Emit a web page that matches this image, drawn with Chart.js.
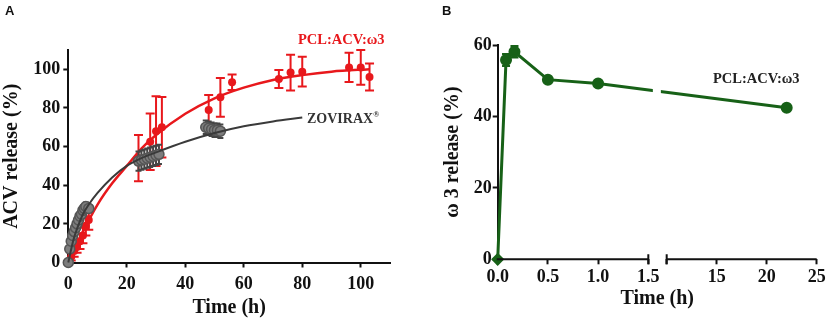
<!DOCTYPE html>
<html>
<head>
<meta charset="utf-8">
<script src="https://cdn.jsdelivr.net/npm/chart.js@4.4.1/dist/chart.umd.min.js"></script>
<style>
  body { margin: 0; background: #fff; }
  #wrap { position: relative; width: 829px; height: 322px; overflow: hidden; }
  canvas { position: absolute; top: 0; }
  .lbl { position: absolute; line-height: 1; white-space: nowrap; font-family: 'Liberation Serif', serif; font-weight: bold; }
  .panel { position: absolute; line-height: 1; font-family: 'Liberation Sans', Arial, sans-serif; font-weight: bold; font-size: 13px; color: #111; }
</style>
</head>
<body>
<div id="wrap">
  <canvas id="chartA" width="415" height="322" style="left:0"></canvas>
  <canvas id="chartB" width="414" height="322" style="left:415px"></canvas>
  <div class="panel" style="left:5px;top:3.5px">A</div>
  <div class="panel" style="left:442px;top:3.5px">B</div>
  <div class="lbl" style="left:298px;top:32px;font-size:14.5px;color:#e8181c">PCL:ACV:ω3</div>
  <div class="lbl" style="left:307px;top:111px;font-size:14px;color:#333">ZOVIRAX<sup style="font-size:8px">®</sup></div>
  <div class="lbl" style="left:713px;top:70.5px;font-size:14.5px;color:#222">PCL:ACV:ω3</div>
</div>
<script>
// ---- Panel A: ACV release ----
// PCL:ACV:w3 measured points
const redTime = [0, 1, 2, 3, 4, 5, 6, 7, 24, 28, 30, 32, 48, 52, 56, 72, 76, 80, 96, 100, 103];
const redRelease = [0, 3, 6, 8, 11, 14, 19, 22, 54, 62.5, 68, 70, 79, 85.5, 93.3, 95, 98.3, 98.8, 101, 101, 96];
const redError = [0, 2, 3, 3, 4, 4, 5, 5, 12, 14.6, 18, 15.7, 7.7, 10, 4, 4.7, 9.3, 7.7, 7.6, 9, 7];
// fitted curve
const redFitTime = [0, 5, 10, 15, 20, 25, 30, 40, 50, 60, 70, 80, 90, 100, 103];
const redFitRelease = [0, 16, 30, 41, 50, 59, 66, 77, 85, 90.5, 94.5, 97, 98.8, 99.8, 100];

// ZOVIRAX measured points
const grayTime = [0, 0.5, 1, 1.5, 2, 2.5, 3, 3.5, 4, 4.5, 5, 5.5, 6, 7, 24, 25, 26, 27, 28, 29, 30, 31, 47, 48, 49, 50, 51, 52];
const grayRelease = [0, 7, 11, 14, 16, 18, 20, 22, 24, 25, 27, 28, 29, 28, 52.5, 53, 53.5, 54, 54.5, 55, 55.5, 56, 70, 69.5, 69, 68.5, 68.5, 68];
const grayError = [0, 1.5, 1.5, 1.5, 2, 2, 2, 2, 2, 2, 2, 2, 2, 2, 5, 5, 5, 5, 5, 5, 5, 5, 3.5, 3.5, 3.5, 3.5, 3.5, 3.5];
const grayFitTime = [0, 1, 2, 3, 5, 7, 10, 15, 20, 25, 30, 40, 50, 60, 70, 80];
const grayFitRelease = [0, 7, 13, 17.5, 25, 30, 36, 44, 50, 54, 57, 62.5, 67, 70.5, 73, 75];

const xTicksA = [0, 20, 40, 60, 80, 100];
const yTicksA = [0, 20, 40, 60, 80, 100];

// ---- Panel B: w3 release (broken time axis) ----
const w3Time = [0, 0.083, 0.167, 0.5, 1, 22];
const w3Release = [0, 55.8, 58.1, 50.3, 49.2, 42.4];
const w3Error = [0, 1.7, 1.6, 0, 0, 0];
const xTickTimesB = [0, 0.5, 1, 1.5, 10, 15, 20, 25];
const xTickLabelsB = ['0.0', '0.5', '1.0', '1.5', '', '15', '20', '25'];
const yTicksB = [0, 20, 40, 60];

const RED = '#e8181c';
const GREEN = '#176117';
const INK = '#111';
const serif = 'Liberation Serif';

// axis break: 0-1.5 h drawn at full scale, 10-25 h compressed
const breakLo = 1.5, breakHi = 10;
function toAxis(t) {
  return t <= breakLo ? t : 1.683 + (t - breakHi) * 0.0996;
}

function pts(xs, ys, f) {
  return xs.map((x, i) => ({ x: f ? f(x) : x, y: ys[i] }));
}

// vertical error bars, drawn just before the points of their dataset
const errorBars = {
  id: 'errorBars',
  beforeDatasetDraw(chart, args) {
    const ds = chart.data.datasets[args.index];
    if (!ds.errors) return;
    const ctx = chart.ctx, xs = chart.scales.x, ys = chart.scales.y;
    const cap = ds.capWidth || 4;
    ctx.save();
    ctx.strokeStyle = ds.errorColor;
    ctx.lineWidth = 2;
    ds.data.forEach((p, i) => {
      const e = ds.errors[i];
      if (!e) return;
      const px = xs.getPixelForValue(p.x);
      const top = ys.getPixelForValue(p.y + e);
      const bot = ys.getPixelForValue(p.y - e);
      ctx.beginPath();
      ctx.moveTo(px, top); ctx.lineTo(px, bot);
      ctx.moveTo(px - cap, top); ctx.lineTo(px + cap, top);
      ctx.moveTo(px - cap, bot); ctx.lineTo(px + cap, bot);
      ctx.stroke();
    });
    ctx.restore();
  }
};

function axisOpts(ticks, cb, fit, title, tpad, lpad) {
  return {
    type: 'linear',
    min: 0,
    afterBuildTicks: s => { s.ticks = ticks.map(v => ({ value: v })); },
    afterFit: fit,
    grid: { display: true, drawOnChartArea: false, tickLength: 5, tickWidth: 2, tickColor: INK },
    border: { display: true, color: INK, width: 2 },
    ticks: { color: INK, padding: lpad, maxRotation: 0, font: { family: serif, size: 18, weight: 'bold' }, callback: cb },
    title: { display: true, text: title, color: INK, padding: tpad, font: { family: serif, size: 20, weight: 'bold' } }
  };
}

new Chart(document.getElementById('chartA'), {
  type: 'scatter',
  data: {
    datasets: [
      {
        data: pts(grayFitTime, grayFitRelease), showLine: true, cubicInterpolationMode: 'monotone',
        borderColor: '#3a3a3a', borderWidth: 2, pointRadius: 0, clip: false
      },
      {
        data: pts(grayTime, grayRelease), errors: grayError, errorColor: '#454545', capWidth: 3,
        pointRadius: 5, backgroundColor: '#7d7d7d', borderColor: '#555', borderWidth: 1.5, clip: false
      },
      {
        data: pts(redFitTime, redFitRelease), showLine: true, cubicInterpolationMode: 'monotone',
        borderColor: RED, borderWidth: 2.5, pointRadius: 0, clip: false
      },
      {
        data: pts(redTime, redRelease), errors: redError, errorColor: RED, capWidth: 4.5,
        pointRadius: 4, backgroundColor: RED, borderColor: RED, borderWidth: 0, clip: false
      }
    ]
  },
  options: {
    responsive: false,
    animation: false,
    layout: { padding: { top: 50, right: 25, left: 0, bottom: 0 } },
    plugins: { legend: { display: false }, tooltip: { enabled: false } },
    scales: {
      x: Object.assign(axisOpts(xTicksA, v => v, s => { s.height = 59.5; }, 'Time (h)', { top: 0, bottom: 2 }, 6), { max: 110 }),
      y: Object.assign(axisOpts(yTicksA, v => v, s => { s.width = 68.3; }, 'ACV release (%)', { top: 0, bottom: 0 }, 3), { max: 110 })
    }
  },
  plugins: [errorBars]
});

// broken x axis for panel B: two axis segments, break ticks and a gap in the line
const brokenAxis = {
  id: 'brokenAxis',
  afterDatasetsDraw(chart) {
    const ctx = chart.ctx, xs = chart.scales.x, area = chart.chartArea;
    const g0 = xs.getPixelForValue(1.545), g1 = xs.getPixelForValue(1.625);
    ctx.save();
    ctx.fillStyle = '#fff';
    ctx.fillRect(g0, area.top - 10, g1 - g0, area.bottom - area.top + 8);
    const y0 = area.bottom;
    const a = xs.getPixelForValue(toAxis(0)), b = xs.getPixelForValue(toAxis(breakLo));
    const c = xs.getPixelForValue(toAxis(breakHi)), d = xs.getPixelForValue(xs.max);
    ctx.strokeStyle = INK;
    ctx.lineWidth = 2;
    ctx.beginPath();
    ctx.moveTo(a - 1, y0); ctx.lineTo(b, y0);
    ctx.moveTo(c, y0); ctx.lineTo(d, y0);
    ctx.moveTo(b, y0 - 5); ctx.lineTo(b, y0 + 5);
    ctx.moveTo(c, y0 - 5); ctx.lineTo(c, y0 + 5);
    ctx.stroke();
    ctx.restore();
  }
};

const xOptsB = axisOpts(xTickTimesB.map(toAxis), (v, i) => xTickLabelsB[i], s => { s.height = 62.7; }, 'Time (h)', { top: 0, bottom: 11 }, 2);
xOptsB.max = toAxis(25);
xOptsB.border = { display: false };

new Chart(document.getElementById('chartB'), {
  type: 'scatter',
  data: {
    datasets: [
      {
        data: pts(w3Time, w3Release, toAxis), showLine: true, errors: w3Error, errorColor: GREEN, capWidth: 4,
        borderColor: GREEN, borderWidth: 3, backgroundColor: GREEN, pointBorderColor: GREEN,
        pointRadius: [4.5, 4.5, 4.5, 4.5, 4.5, 4.5], pointStyle: ['rectRot', 'circle', 'circle', 'circle', 'circle', 'circle'],
        clip: false
      }
    ]
  },
  options: {
    responsive: false,
    animation: false,
    layout: { padding: { top: 45, right: 12.3, left: 0, bottom: 0 } },
    plugins: { legend: { display: false }, tooltip: { enabled: false } },
    scales: {
      x: xOptsB,
      y: Object.assign(axisOpts(yTicksB, v => v, s => { s.width = 82.7; }, 'ω 3 release (%)', { top: 26, bottom: 0 }, 1), { max: 60 })
    }
  },
  plugins: [errorBars, brokenAxis]
});
</script>
</body>
</html>
